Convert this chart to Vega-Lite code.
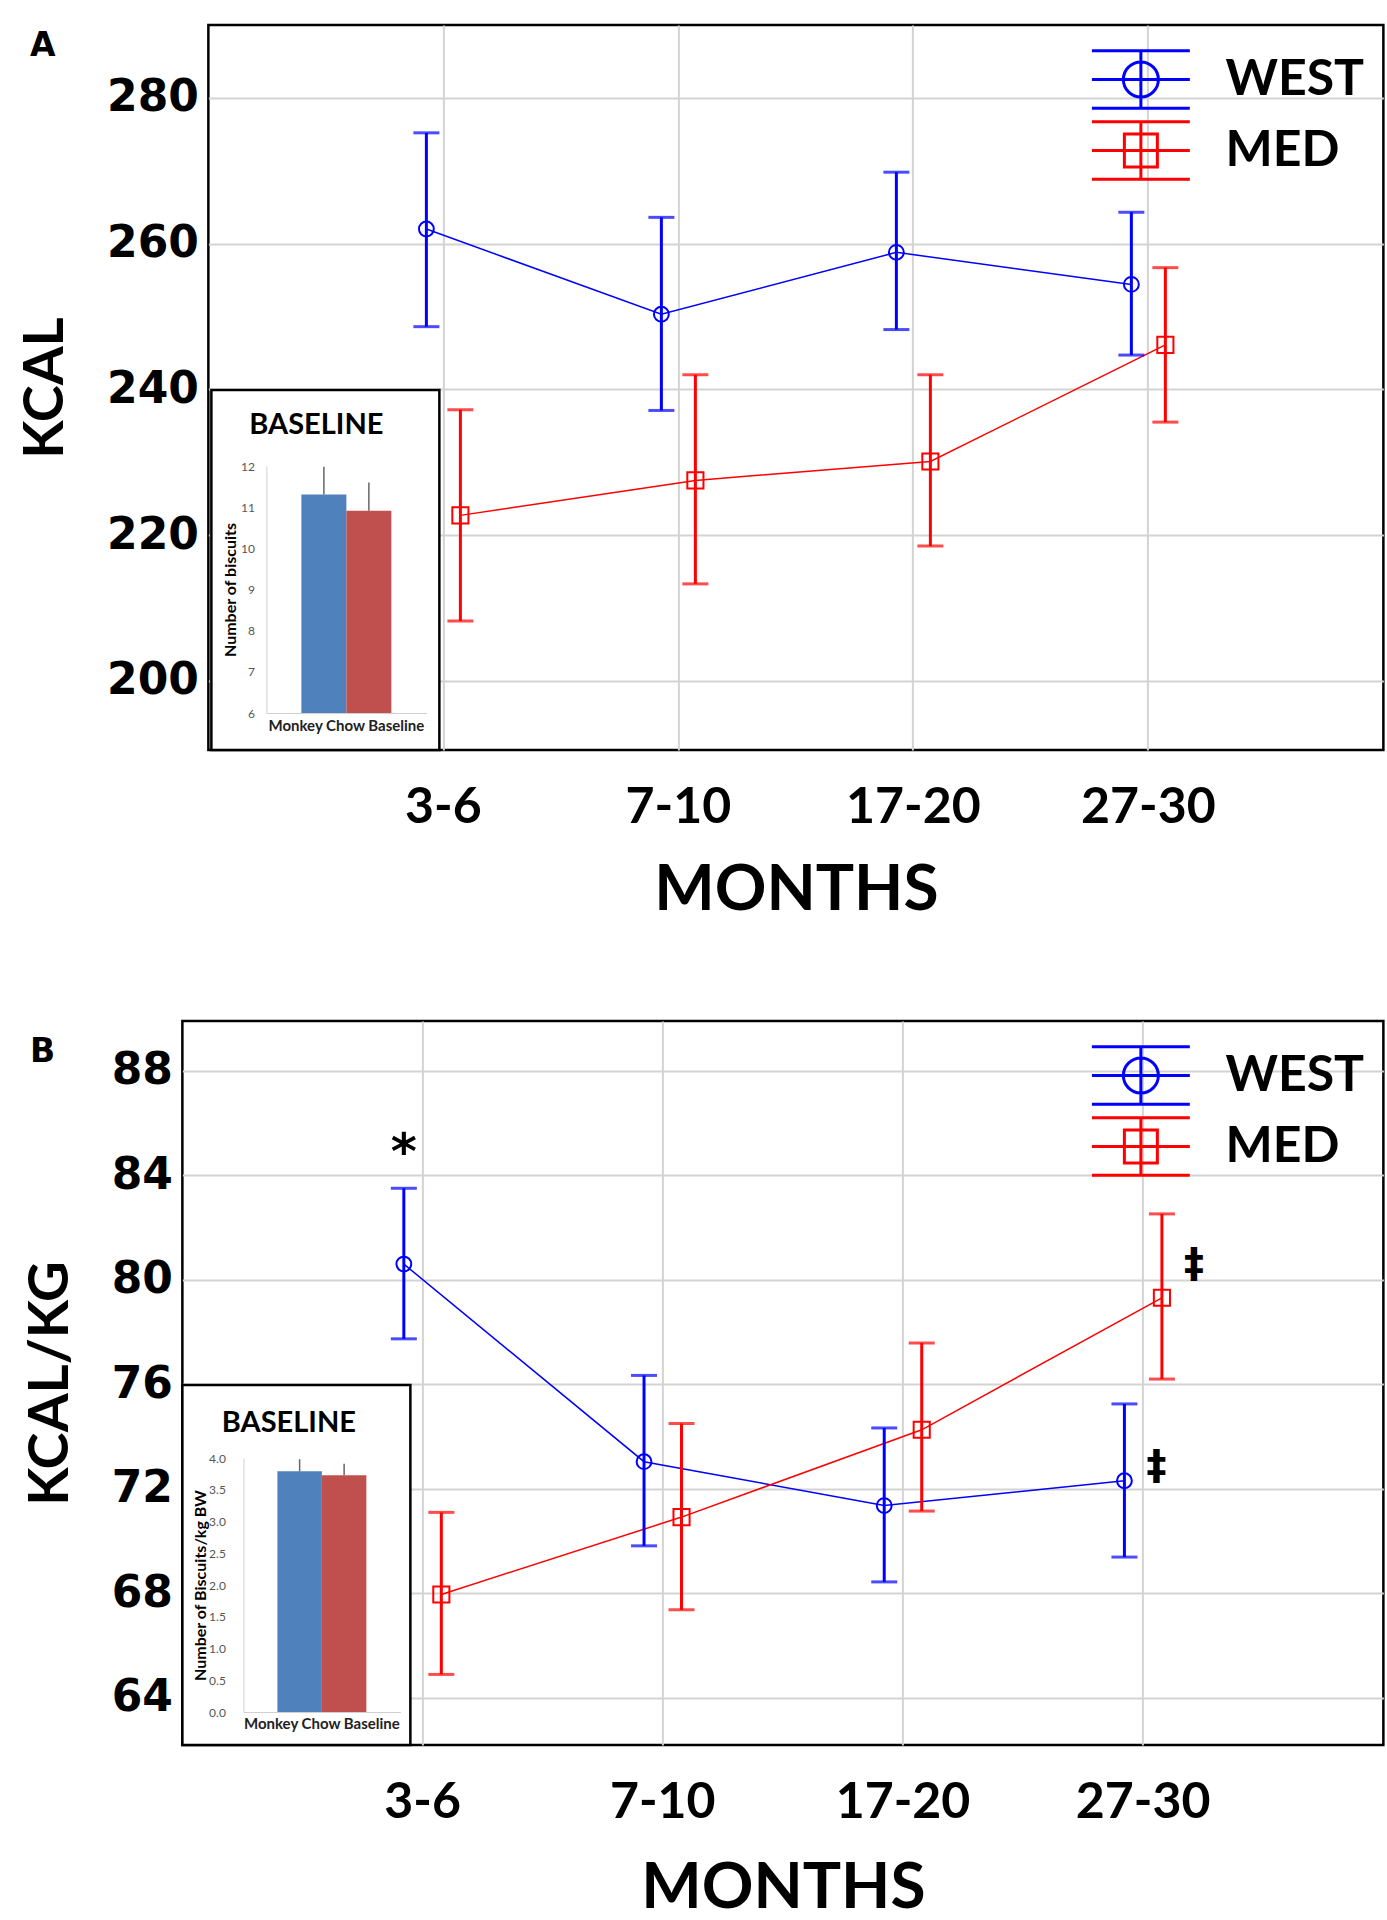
{
  "$schema": "https://vega.github.io/schema/vega-lite/v6.json",
  "background": "white",
  "padding": {"left": 16, "top": 23, "right": 0, "bottom": 0},
  "config": {
    "font": "Lato",
    "view": {"stroke": "black", "strokeWidth": 2.5},
    "axis": {"labelColor": "black", "titleColor": "black"}
  },
  "datasets": {
    "A": [
      {"month": "3-6", "diet": "WEST", "mean": 262.0, "lo": 248.6, "hi": 275.2},
      {"month": "7-10", "diet": "WEST", "mean": 250.3, "lo": 237.1, "hi": 263.6},
      {"month": "17-20", "diet": "WEST", "mean": 258.8, "lo": 248.2, "hi": 269.8},
      {"month": "27-30", "diet": "WEST", "mean": 254.4, "lo": 244.7, "hi": 264.3},
      {"month": "3-6", "diet": "MED", "mean": 222.7, "lo": 208.2, "hi": 237.2},
      {"month": "7-10", "diet": "MED", "mean": 227.5, "lo": 213.3, "hi": 242.0},
      {"month": "17-20", "diet": "MED", "mean": 230.1, "lo": 218.5, "hi": 242.0},
      {"month": "27-30", "diet": "MED", "mean": 246.1, "lo": 235.5, "hi": 256.7}
    ],
    "B": [
      {"month": "3-6", "diet": "WEST", "mean": 80.6, "lo": 77.74, "hi": 83.5},
      {"month": "7-10", "diet": "WEST", "mean": 73.04, "lo": 69.82, "hi": 76.34},
      {"month": "17-20", "diet": "WEST", "mean": 71.36, "lo": 68.44, "hi": 74.33},
      {"month": "27-30", "diet": "WEST", "mean": 72.31, "lo": 69.39, "hi": 75.25},
      {"month": "3-6", "diet": "MED", "mean": 67.96, "lo": 64.9, "hi": 71.1},
      {"month": "7-10", "diet": "MED", "mean": 70.92, "lo": 67.37, "hi": 74.5},
      {"month": "17-20", "diet": "MED", "mean": 74.26, "lo": 71.15, "hi": 77.58},
      {"month": "27-30", "diet": "MED", "mean": 79.31, "lo": 76.2, "hi": 82.52}
    ],
    "notesB": [
      {"month": "3-6", "diet": "WEST", "pos": 85.34, "label": "*"},
      {"month": "27-30", "diet": "MED", "pos": 80.57, "label": "‡"},
      {"month": "27-30", "diet": "WEST", "pos": 72.84, "label": "‡"}
    ],
    "insetA": [
      {"cond": "Monkey Chow Baseline", "diet": "WEST", "mean": 11.31, "hi": 11.98},
      {"cond": "Monkey Chow Baseline", "diet": "MED", "mean": 10.91, "hi": 11.6}
    ],
    "insetB": [
      {"cond": "Monkey Chow Baseline", "diet": "WEST", "mean": 3.79, "hi": 3.98},
      {"cond": "Monkey Chow Baseline", "diet": "MED", "mean": 3.73, "hi": 3.91}
    ]
  },
  "columns": 1,
  "align": "each",
  "center": true,
  "spacing": 95,
  "resolve": {
    "scale": {"x": "independent", "y": "independent", "xOffset": "independent", "color": "independent", "stroke": "independent", "shape": "independent"},
    "axis": {"x": "independent", "y": "independent"},
    "legend": {"stroke": "independent", "shape": "independent"}
  },
  "concat": [
    {
      "width": 1175,
      "height": 725,
      "resolve": {
        "scale": {"x": "independent", "y": "independent", "xOffset": "independent", "color": "independent"},
        "axis": {"x": "independent", "y": "independent"}
      },
      "layer": [
        {
          "data": {"name": "A"},
          "encoding": {
            "x": {
              "field": "month", "type": "ordinal",
              "scale": {"type": "band", "domain": ["3-6", "7-10", "17-20", "27-30"], "paddingInner": 0.8553, "paddingOuter": 0.9277},
              "axis": {"title": "MONTHS", "titleFont": "Lato", "titleFontSize": 64, "titleFontWeight": "bold", "titlePadding": 26, "labelFont": "Lato", "labelFontSize": 50, "labelFontWeight": "bold", "labelPadding": 32, "labelAngle": 0, "ticks": false, "domain": false, "grid": true, "gridColor": "#d3d3d3", "gridWidth": 2, "bandPosition": 0.5}
            },
            "xOffset": {"field": "diet", "type": "nominal", "scale": {"type": "point", "domain": ["WEST", "MED"], "padding": 0}}
          },
          "layer": [
            {
              "mark": {"type": "line", "strokeWidth": 1.5},
              "encoding": {
                "y": {
                  "field": "mean", "type": "quantitative",
                  "scale": {"domain": [190.5, 290], "nice": false, "zero": false},
                  "axis": {"title": "KCAL", "titleFont": "Lato", "titleFontSize": 56, "titleFontWeight": "bold", "titlePadding": 32, "labelFont": "DejaVu Sans", "labelFontSize": 44, "labelFontWeight": "bold", "labelPadding": 10, "ticks": false, "domain": false, "values": [200, 220, 240, 260, 280], "gridColor": "#d3d3d3", "gridWidth": 2}
                },
                "color": {"field": "diet", "type": "nominal", "scale": {"domain": ["WEST", "MED"], "range": ["#0000ff", "#ff0000"]}, "legend": null},
                "order": {"value": null}
              }
            },
            {"mark": {"type": "rule", "strokeWidth": 3}, "encoding": {"y": {"field": "lo", "type": "quantitative"}, "y2": {"field": "hi"}, "color": {"field": "diet", "type": "nominal", "legend": null}}},
            {"mark": {"type": "tick", "orient": "horizontal", "thickness": 3, "size": 26}, "encoding": {"y": {"field": "lo", "type": "quantitative"}, "color": {"field": "diet", "type": "nominal", "legend": null}}},
            {"mark": {"type": "tick", "orient": "horizontal", "thickness": 3, "size": 26}, "encoding": {"y": {"field": "hi", "type": "quantitative"}, "color": {"field": "diet", "type": "nominal", "legend": null}}},
            {
              "transform": [{"filter": "datum.diet === 'WEST'"}],
              "mark": {"type": "point", "shape": "circle", "filled": false, "strokeWidth": 2, "size": 220, "opacity": 1},
              "encoding": {"y": {"field": "mean", "type": "quantitative"}, "color": {"field": "diet", "type": "nominal", "legend": null}}
            },
            {
              "transform": [{"filter": "datum.diet === 'MED'"}],
              "mark": {"type": "point", "shape": "square", "filled": false, "strokeWidth": 2, "size": 260, "opacity": 1},
              "encoding": {"y": {"field": "mean", "type": "quantitative"}, "color": {"field": "diet", "type": "nominal", "legend": null}}
            },
            {
              "transform": [{"filter": "false"}],
              "mark": {"type": "point", "filled": false, "strokeWidth": 3, "size": 4624, "opacity": 1},
              "encoding": {
                "y": {"field": "mean", "type": "quantitative"},
                "stroke": {
                  "field": "diet", "type": "nominal",
                  "scale": {"domain": ["WEST", "MED"], "range": ["#0000ff", "#ff0000"]},
                  "legend": {"title": null, "orient": "top-right", "offset": 19, "padding": 0, "rowPadding": 0, "labelFont": "Lato", "labelFontSize": 50, "labelFontWeight": "bold", "labelColor": "black", "labelOffset": 49, "labelLimit": 400, "symbolSize": 4624, "symbolStrokeWidth": 3}
                },
                "shape": {
                  "field": "diet", "type": "nominal",
                  "scale": {"domain": ["WEST", "MED"], "range": ["M-1.44,-0.845H1.44M-1.44,0H1.44M-1.44,0.845H1.44M0,-0.845V0.845M0.515,0A0.515,0.515,0,1,1,-0.515,0A0.515,0.515,0,1,1,0.515,0Z", "M-1.44,-0.845H1.44M-1.44,0H1.44M-1.44,0.845H1.44M0,-0.845V0.845M-0.485,-0.485H0.485V0.485H-0.485Z"]},
                  "legend": {"title": null, "orient": "top-right", "offset": 19, "padding": 0, "rowPadding": 0, "labelFont": "Lato", "labelFontSize": 50, "labelFontWeight": "bold", "labelColor": "black", "labelOffset": 49, "labelLimit": 400, "symbolSize": 4624, "symbolStrokeWidth": 3}
                }
              }
            }
          ]
        },
        {
          "data": {"values": [{"panel": "A"}]},
          "mark": {"type": "rect", "fill": "white", "stroke": "black", "strokeWidth": 2.5},
          "encoding": {
            "x": {"datum": 0, "type": "quantitative", "scale": {"domain": [0, 1], "range": [3, 231]}, "axis": null},
            "x2": {"datum": 1},
            "y": {"datum": 0, "type": "quantitative", "scale": {"domain": [0, 1], "range": [725, 365]},
              "axis": {"orient": "left", "title": "A", "titleFont": "DejaVu Sans", "titleFontSize": 33, "titleFontWeight": "bold", "titleAngle": 0, "titleAlign": "left", "titleBaseline": "alphabetic", "titleX": -179, "titleY": 30.5, "labels": false, "ticks": false, "domain": false, "grid": false}},
            "y2": {"datum": 1}
          }
        },
        {
          "data": {"name": "insetA"},
          "layer": [
            {
              "mark": {"type": "bar"},
              "encoding": {
                "x": {
                  "field": "cond", "type": "nominal",
                  "scale": {"type": "band", "range": [58, 218], "paddingInner": 0, "paddingOuter": 0},
                  "axis": {"orient": "bottom", "title": null, "labelFont": "Lato", "labelFontSize": 15, "labelFontWeight": "bold", "labelColor": "#222222", "labelAngle": 0, "labelPadding": 5, "ticks": false, "domainColor": "#d0d0d0", "offset": -37, "grid": false, "zindex": 1}
                },
                "xOffset": {"field": "diet", "type": "nominal", "scale": {"domain": ["WEST", "MED"], "paddingInner": 0, "paddingOuter": 0.778}},
                "y": {
                  "field": "mean", "type": "quantitative",
                  "scale": {"domain": [6, 12], "range": [688, 441], "nice": false, "zero": false},
                  "axis": {"orient": "left", "title": "Number of biscuits", "titleFont": "Lato", "titleFontSize": 16, "titleFontWeight": "bold", "titlePadding": 2, "labelFont": "Lato", "labelFontSize": 12, "labelColor": "#555555", "labelPadding": 12, "format": "d", "ticks": false, "domainColor": "#d0d0d0", "values": [6, 7, 8, 9, 10, 11, 12], "gridColor": "#dedede", "gridWidth": 1, "offset": -58, "zindex": 1}
                },
                "y2": {"datum": 6},
                "color": {"field": "diet", "type": "nominal", "scale": {"domain": ["WEST", "MED"], "range": ["#4f81bd", "#c0504d"]}, "legend": null}
              }
            },
            {
              "mark": {"type": "rule", "color": "#666666", "strokeWidth": 1.5},
              "encoding": {
                "x": {"field": "cond", "type": "nominal"},
                "xOffset": {"field": "diet", "type": "nominal"},
                "y": {"field": "mean", "type": "quantitative"},
                "y2": {"field": "hi"}
              }
            },
            {
              "data": {"values": [{"label": "BASELINE"}]},
              "mark": {"type": "text", "font": "Lato", "fontSize": 29, "fontWeight": "bold", "color": "black", "baseline": "alphabetic", "align": "center", "dx": -30},
              "encoding": {
                "x": {"datum": "Monkey Chow Baseline", "type": "nominal"},
                "y": {"datum": 12.77, "type": "quantitative"},
                "text": {"field": "label"}
              }
            }
          ]
        }
      ]
    },
    {
      "width": 1201,
      "height": 724,
      "title": {"text": " ", "orient": "right", "fontSize": 26, "offset": 0},
      "resolve": {
        "scale": {"x": "independent", "y": "independent", "xOffset": "independent", "color": "independent"},
        "axis": {"x": "independent", "y": "independent"}
      },
      "layer": [
        {
          "data": {"name": "B"},
          "encoding": {
            "x": {
              "field": "month", "type": "ordinal",
              "scale": {"type": "band", "domain": ["3-6", "7-10", "17-20", "27-30"], "paddingInner": 0.8439, "paddingOuter": 0.922},
              "axis": {"title": "MONTHS", "titleFont": "Lato", "titleFontSize": 64, "titleFontWeight": "bold", "titlePadding": 29, "labelFont": "Lato", "labelFontSize": 50, "labelFontWeight": "bold", "labelPadding": 32, "labelAngle": 0, "ticks": false, "domain": false, "grid": true, "gridColor": "#d3d3d3", "gridWidth": 2, "bandPosition": 0.5}
            },
            "xOffset": {"field": "diet", "type": "nominal", "scale": {"type": "point", "domain": ["WEST", "MED"], "padding": 0}}
          },
          "layer": [
            {
              "mark": {"type": "line", "strokeWidth": 1.5},
              "encoding": {
                "y": {
                  "field": "mean", "type": "quantitative",
                  "scale": {"domain": [62.2, 89.9], "nice": false, "zero": false},
                  "axis": {"title": "KCAL/KG", "titleFont": "Lato", "titleFontSize": 56, "titleFontWeight": "bold", "titlePadding": 32, "labelFont": "DejaVu Sans", "labelFontSize": 44, "labelFontWeight": "bold", "labelPadding": 10, "ticks": false, "domain": false, "values": [64, 68, 72, 76, 80, 84, 88], "gridColor": "#d3d3d3", "gridWidth": 2}
                },
                "color": {"field": "diet", "type": "nominal", "scale": {"domain": ["WEST", "MED"], "range": ["#0000ff", "#ff0000"]}, "legend": null},
                "order": {"value": null}
              }
            },
            {"mark": {"type": "rule", "strokeWidth": 3}, "encoding": {"y": {"field": "lo", "type": "quantitative"}, "y2": {"field": "hi"}, "color": {"field": "diet", "type": "nominal", "legend": null}}},
            {"mark": {"type": "tick", "orient": "horizontal", "thickness": 3, "size": 26}, "encoding": {"y": {"field": "lo", "type": "quantitative"}, "color": {"field": "diet", "type": "nominal", "legend": null}}},
            {"mark": {"type": "tick", "orient": "horizontal", "thickness": 3, "size": 26}, "encoding": {"y": {"field": "hi", "type": "quantitative"}, "color": {"field": "diet", "type": "nominal", "legend": null}}},
            {
              "transform": [{"filter": "datum.diet === 'WEST'"}],
              "mark": {"type": "point", "shape": "circle", "filled": false, "strokeWidth": 2, "size": 220, "opacity": 1},
              "encoding": {"y": {"field": "mean", "type": "quantitative"}, "color": {"field": "diet", "type": "nominal", "legend": null}}
            },
            {
              "transform": [{"filter": "datum.diet === 'MED'"}],
              "mark": {"type": "point", "shape": "square", "filled": false, "strokeWidth": 2, "size": 260, "opacity": 1},
              "encoding": {"y": {"field": "mean", "type": "quantitative"}, "color": {"field": "diet", "type": "nominal", "legend": null}}
            },
            {
              "transform": [{"filter": "false"}],
              "mark": {"type": "point", "filled": false, "strokeWidth": 3, "size": 4624, "opacity": 1},
              "encoding": {
                "y": {"field": "mean", "type": "quantitative"},
                "stroke": {
                  "field": "diet", "type": "nominal",
                  "scale": {"domain": ["WEST", "MED"], "range": ["#0000ff", "#ff0000"]},
                  "legend": {"title": null, "orient": "top-right", "offset": 19, "padding": 0, "rowPadding": 0, "labelFont": "Lato", "labelFontSize": 50, "labelFontWeight": "bold", "labelColor": "black", "labelOffset": 49, "labelLimit": 400, "symbolSize": 4624, "symbolStrokeWidth": 3}
                },
                "shape": {
                  "field": "diet", "type": "nominal",
                  "scale": {"domain": ["WEST", "MED"], "range": ["M-1.44,-0.845H1.44M-1.44,0H1.44M-1.44,0.845H1.44M0,-0.845V0.845M0.515,0A0.515,0.515,0,1,1,-0.515,0A0.515,0.515,0,1,1,0.515,0Z", "M-1.44,-0.845H1.44M-1.44,0H1.44M-1.44,0.845H1.44M0,-0.845V0.845M-0.485,-0.485H0.485V0.485H-0.485Z"]},
                  "legend": {"title": null, "orient": "top-right", "offset": 19, "padding": 0, "rowPadding": 0, "labelFont": "Lato", "labelFontSize": 50, "labelFontWeight": "bold", "labelColor": "black", "labelOffset": 49, "labelLimit": 400, "symbolSize": 4624, "symbolStrokeWidth": 3}
                }
              }
            },
            {
              "data": {"name": "notesB"},
              "transform": [{"filter": "datum.label === '*'"}],
              "mark": {"type": "text", "font": "DejaVu Sans", "fontSize": 50, "fontWeight": "bold", "baseline": "middle", "align": "center", "dy": 14, "color": "black"},
              "encoding": {"y": {"field": "pos", "type": "quantitative"}, "text": {"field": "label"}}
            },
            {
              "data": {"name": "notesB"},
              "transform": [{"filter": "datum.label !== '*'"}],
              "mark": {"type": "text", "font": "DejaVu Sans", "fontSize": 40, "fontWeight": "bold", "baseline": "middle", "align": "center", "dx": 32, "color": "black"},
              "encoding": {"y": {"field": "pos", "type": "quantitative"}, "text": {"field": "label"}}
            }
          ]
        },
        {
          "data": {"values": [{"panel": "B"}]},
          "mark": {"type": "rect", "fill": "white", "stroke": "black", "strokeWidth": 2.5},
          "encoding": {
            "x": {"datum": 0, "type": "quantitative", "scale": {"domain": [0, 1], "range": [0, 228]}, "axis": null},
            "x2": {"datum": 1},
            "y": {"datum": 0, "type": "quantitative", "scale": {"domain": [0, 1], "range": [724, 364]},
              "axis": {"orient": "left", "title": "B", "titleFont": "DejaVu Sans", "titleFontSize": 33, "titleFontWeight": "bold", "titleAngle": 0, "titleAlign": "left", "titleBaseline": "alphabetic", "titleX": -153, "titleY": 40, "labels": false, "ticks": false, "domain": false, "grid": false}},
            "y2": {"datum": 1}
          }
        },
        {
          "data": {"name": "insetB"},
          "layer": [
            {
              "mark": {"type": "bar"},
              "encoding": {
                "x": {
                  "field": "cond", "type": "nominal",
                  "scale": {"type": "band", "range": [61, 218], "paddingInner": 0, "paddingOuter": 0},
                  "axis": {"orient": "bottom", "title": null, "labelFont": "Lato", "labelFontSize": 15, "labelFontWeight": "bold", "labelColor": "#222222", "labelAngle": 0, "labelPadding": 4, "ticks": false, "domainColor": "#d0d0d0", "offset": -33, "grid": false, "zindex": 1}
                },
                "xOffset": {"field": "diet", "type": "nominal", "scale": {"domain": ["WEST", "MED"], "paddingInner": 0, "paddingOuter": 0.764}},
                "y": {
                  "field": "mean", "type": "quantitative",
                  "scale": {"domain": [0, 4], "range": [691, 437], "nice": false},
                  "axis": {"orient": "left", "title": "Number of Biscuits/kg BW", "titleFont": "Lato", "titleFontSize": 16, "titleFontWeight": "bold", "titlePadding": 0, "labelFont": "Lato", "labelFontSize": 12, "labelColor": "#555555", "labelPadding": 18, "format": ".1f", "ticks": false, "domainColor": "#d0d0d0", "values": [0, 0.5, 1, 1.5, 2, 2.5, 3, 3.5, 4], "gridColor": "#dedede", "gridWidth": 1, "offset": -61, "zindex": 1}
                },
                "color": {"field": "diet", "type": "nominal", "scale": {"domain": ["WEST", "MED"], "range": ["#4f81bd", "#c0504d"]}, "legend": null}
              }
            },
            {
              "mark": {"type": "rule", "color": "#666666", "strokeWidth": 1.5},
              "encoding": {
                "x": {"field": "cond", "type": "nominal"},
                "xOffset": {"field": "diet", "type": "nominal"},
                "y": {"field": "mean", "type": "quantitative"},
                "y2": {"field": "hi"}
              }
            },
            {
              "data": {"values": [{"label": "BASELINE"}]},
              "mark": {"type": "text", "font": "Lato", "fontSize": 29, "fontWeight": "bold", "color": "black", "baseline": "alphabetic", "align": "center", "dx": -33},
              "encoding": {
                "x": {"datum": "Monkey Chow Baseline", "type": "nominal"},
                "y": {"datum": 4.41, "type": "quantitative"},
                "text": {"field": "label"}
              }
            }
          ]
        }
      ]
    }
  ]
}
